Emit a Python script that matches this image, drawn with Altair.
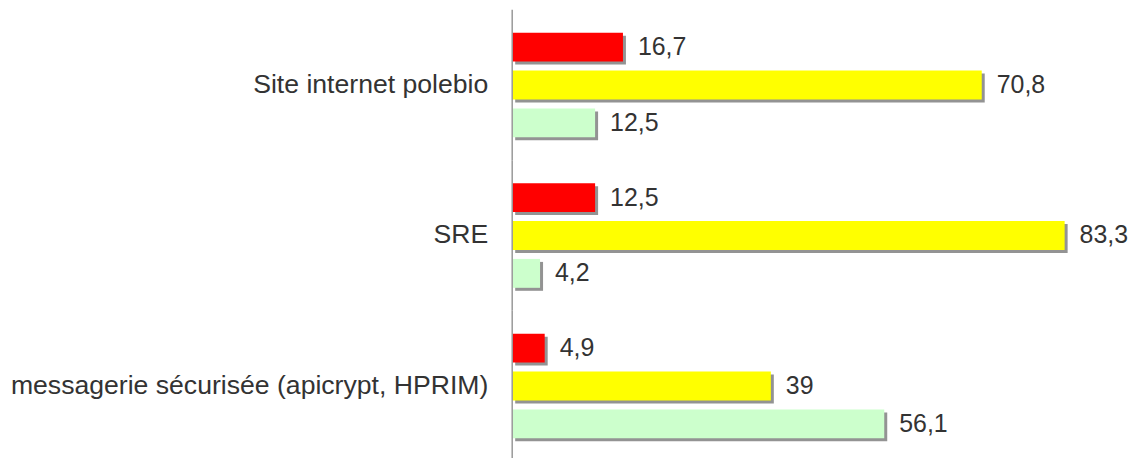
import altair as alt
import pandas as pd

categories = ["Site internet polebio", "SRE", "messagerie sécurisée (apicrypt, HPRIM)"]
series = ["Série 1", "Série 2", "Série 3"]
colors = ["#FF0000", "#FFFF00", "#CCFFCC"]
values = {
    "Série 1": [16.7, 12.5, 4.9],
    "Série 2": [70.8, 83.3, 39.0],
    "Série 3": [12.5, 4.2, 56.1],
}

rows = []
for s in series:
    for c, v in zip(categories, values[s]):
        rows.append({"cat": c, "serie": s, "value": v})
df = pd.DataFrame(rows)

FONT = "Liberation Sans"
TXT = "#333333"
PANEL_H = 151

x_enc = alt.X("value:Q", scale=alt.Scale(domain=[0, 90], nice=False), axis=None)
y_enc = alt.Y(
    "serie:N",
    sort=series,
    scale=alt.Scale(paddingInner=0.237, paddingOuter=0.605),
    axis=None,
)

shadow = alt.Chart().mark_bar(
    color="#6f6f6f", opacity=0.75, xOffset=3, x2Offset=3, yOffset=3
).encode(x=x_enc, y=y_enc)

bars = alt.Chart().mark_bar().encode(
    x=x_enc,
    y=y_enc,
    color=alt.Color("serie:N", scale=alt.Scale(domain=series, range=colors), legend=None),
)

labels = alt.Chart().transform_calculate(
    lab="replace(toString(datum.value), '.', ',')"
).mark_text(
    align="left", baseline="middle", dx=15, font=FONT, fontSize=25, color=TXT
).encode(x=x_enc, y=y_enc, text="lab:N")

cat_labels = alt.Chart().transform_filter(
    alt.datum.serie == series[1]
).mark_text(
    align="right", baseline="middle", font=FONT, fontSize=26.7, color=TXT
).encode(x=alt.value(-24), y=y_enc, text="cat:N")

axis_line = alt.Chart().transform_filter(
    alt.datum.serie == series[1]
).mark_rule(color="#999999", strokeWidth=1.5).encode(
    x=alt.value(0), y=alt.value(0), y2=alt.value(PANEL_H)
)

chart = alt.layer(shadow, bars, labels, cat_labels, axis_line, data=df).properties(
    width=599, height=PANEL_H
).facet(
    row=alt.Row("cat:N", sort=categories, title=None, header=alt.Header(labels=False)),
    spacing=0,
    bounds="flush",
).properties(
    padding={"left": 2, "top": 0, "right": 0, "bottom": 0},
).configure_view(stroke=None)

chart.save("out.html", embed_options={"renderer": "svg", "actions": False})
